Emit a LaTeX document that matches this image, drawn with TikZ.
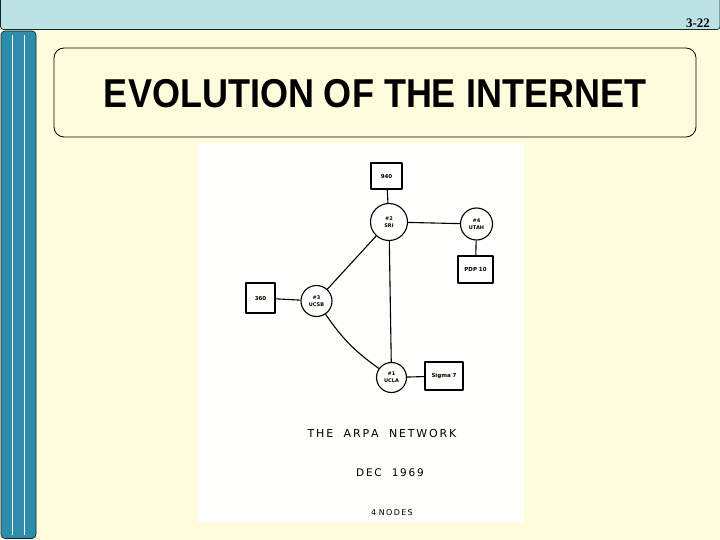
\documentclass[tikz,border=0pt]{standalone}
\usepackage{fontspec}
\setmainfont{Liberation Serif}
\setsansfont{Liberation Sans}
\newfontfamily\handfont{DejaVu Sans}[Scale=1]
\definecolor{bgcream}{RGB}{255,252,222}
\definecolor{topbar}{RGB}{189,226,228}
\definecolor{sidebar}{RGB}{46,140,171}
\definecolor{edgedark}{RGB}{20,40,50}
\definecolor{photo}{RGB}{254,254,251}
\tikzset{
  sk/.style={draw=black, line width=1.1pt, line join=round},
  hostbox/.style={sk, rectangle, fill=photo, inner sep=0pt, font=\handfont\bfseries\fontsize{5.5}{6}\selectfont},
  imp/.style={sk, circle, fill=photo, inner sep=0pt, align=center, font=\handfont\bfseries\fontsize{5}{6}\selectfont},
  link/.style={draw=black, line width=1.1pt},
  handtxt/.style={font=\handfont\fontsize{9}{10}\selectfont, inner sep=0pt}
}
\begin{document}
\begin{tikzpicture}[x=1pt,y=-1pt]
\useasboundingbox (0,0) rectangle (720,540);
\fill[bgcream] (0,0) rectangle (720,540);
% top bar
\path[fill=topbar, draw=edgedark, line width=0.7pt, rounded corners=3pt] (0.5,-3) -- (720,-3) -- (720,29.5) -- (0.5,29.5) -- cycle;
\node[font=\bfseries\fontsize{13}{14}\selectfont, inner sep=0pt] (pg) at (698,23) {3-22};
% left bar
\path[fill=sidebar, draw=edgedark, line width=0.7pt, rounded corners=4pt] (1,31) rectangle (36,538.5);
\draw[white, line width=0.6pt] (12.3,35) -- (12.3,535);
\draw[white, line width=0.6pt] (24.3,35) -- (24.3,535);
% title box
\node[draw=black, line width=0.8pt, rounded corners=10pt, fill=bgcream, minimum width=642pt, minimum height=89pt, inner sep=0pt] (tb) at (375,92.5) {};
\node[font=\sffamily\bfseries\fontsize{36}{40}\selectfont, inner sep=0pt, yscale=1.12] (title) at (375,94) {EVOLUTION OF THE INTERNET};
% photo
\node[fill=photo, minimum width=326pt, minimum height=379pt, inner sep=0pt] (ph) at (361,332.5) {};
% sketch nodes
\node[hostbox, minimum width=31pt, minimum height=26pt] (h940) at (386.5,176) {940};
\node[imp, minimum size=37pt] (sri) at (389,222) {\#2\\[1pt]SRI};
\node[imp, minimum size=32pt] (utah) at (476.5,224) {\#4\\[1pt]UTAH};
\node[hostbox, minimum width=35pt, minimum height=27pt] (pdp) at (475.5,269.5) {PDP 10};
\node[hostbox, minimum width=29pt, minimum height=30pt] (h360) at (260.5,298) {360};
\node[imp, minimum size=31pt] (ucsb) at (316.5,301) {\#3\\[1pt]UCSB};
\node[imp, minimum size=30pt] (ucla) at (391.5,377.5) {\#1\\[1pt]UCLA};
\node[hostbox, minimum width=38pt, minimum height=28pt] (sigma) at (444,376) {Sigma 7};
% links
\draw[link] (h940) -- (sri);
\draw[link] (sri) -- (utah);
\draw[link] (utah) -- (pdp);
\draw[link] (sri) -- (ucsb);
\draw[link] (sri) -- (ucla);
\draw[link] (ucsb) to[bend right=10] (ucla);
\draw[link] (h360) -- (ucsb);
\draw[link] (ucla) -- (sigma);
% captions
\node[handtxt, font=\handfont\fontsize{11}{12}\selectfont] (cap1) at (382,433) {T\,H\,E \ \ A\,R\,P\,A \ \ N\,E\,T\,W\,O\,R\,K};
\node[handtxt, font=\handfont\fontsize{10.5}{12}\selectfont] (cap2) at (390,473) {D\,E\,C \ \ 1\,9\,6\,9};
\node[handtxt, font=\handfont\fontsize{8}{9}\selectfont] (cap3) at (392,513) {4 N\,O\,D\,E\,S};
\end{tikzpicture}
\end{document}
